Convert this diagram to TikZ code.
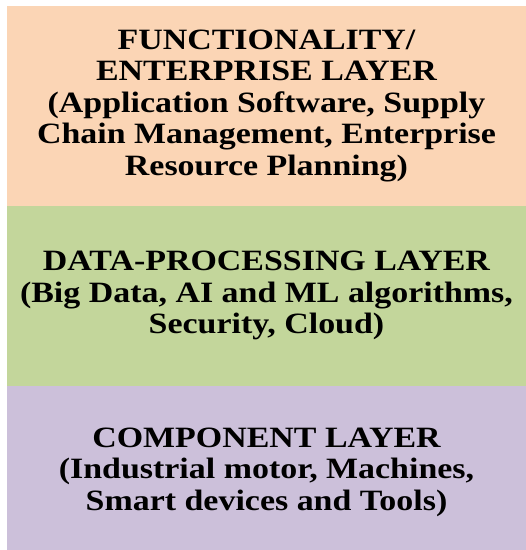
\documentclass[tikz,border=0pt]{standalone}
\usepackage{fontspec}
\setmainfont{Liberation Serif}[FakeStretch=1.15]
\definecolor{layerorange}{HTML}{FBD5B5}
\definecolor{layergreen}{HTML}{C3D69B}
\definecolor{layerpurple}{HTML}{CCC0DA}
\begin{document}
\begin{tikzpicture}[x=1pt,y=-1pt,
  layer/.style={draw=none, minimum width=519pt, inner sep=0pt, align=center,
    font=\bfseries\fontsize{29.5}{31.5}\selectfont, text=black}]
\useasboundingbox[fill=white] (0,0) rectangle (526,550);
\node[layer, fill=layerorange, minimum height=199.5pt] (func) at (266.5,105.75)
  {FUNCTIONALITY/\\ENTERPRISE LAYER\\(Application Software, Supply\\Chain Management, Enterprise\\Resource Planning)};
\node[layer, fill=layergreen, minimum height=180.5pt] (data) at (266.5,295.75)
  {DATA-PROCESSING LAYER\\(Big Data, AI and ML algorithms,\\Security, Cloud)};
\node[layer, fill=layerpurple, minimum height=164.5pt] (comp) at (266.5,467.75) {};
\node[layer, minimum width=0pt] (comptext) at (266.5,472)
  {COMPONENT LAYER\\(Industrial motor, Machines,\\Smart devices and Tools)};
\end{tikzpicture}
\end{document}
